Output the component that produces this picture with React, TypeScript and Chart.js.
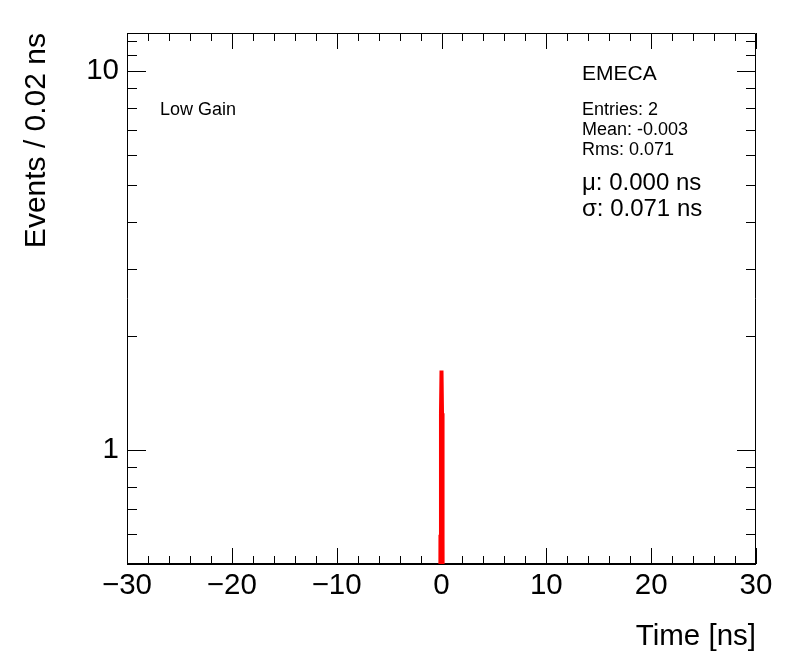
import React, { useEffect, useRef } from 'react';
import { Chart, registerables } from 'chart.js';

Chart.register(...registerables);

// ---- data ----
const xTickValues = [-30, -20, -10, 0, 10, 20, 30];
const xTickLabels = ['−30', '−20', '−10', '0', '10', '20', '30'];
const xMinorTicks = [-28, -26, -24, -22, -18, -16, -14, -12, -8, -6, -4, -2, 2, 4, 6, 8, 12, 14, 16, 18, 22, 24, 26, 28];
const yTickValues = [1, 10];
const yTickLabels = ['1', '10'];
const yMinorTicks = [0.6, 0.7, 0.8, 0.9, 2, 3, 4, 5, 6, 7, 8, 9, 11, 12];

// histogram bins (0.02 ns wide)
const histBinLow = [-0.1, 0.06];
const histBinHigh = [-0.08, 0.08];
const histCounts = [1, 1];
const histFloor = 0.01;

// gaussian fit curve
const fitX = [-0.3, -0.2, -0.15, -0.1, -0.05, 0, 0.05, 0.1, 0.15, 0.2, 0.3];
const fitY = [0.002, 0.03, 0.17, 0.59, 1.25, 1.62, 1.25, 0.59, 0.17, 0.03, 0.002];

const panelLabel = 'Low Gain';
const statsTitle = 'EMECA';
const statsLines = ['Entries: 2', 'Mean: -0.003', 'Rms: 0.071'];
const fitLines = ['μ: 0.000 ns', 'σ: 0.071 ns'];

const xTitle = 'Time [ns]';
const yTitle = 'Events / 0.02 ns';

const FONT = '"Liberation Sans", Arial, Helvetica, sans-serif';

export default function App() {
  const ref = useRef<HTMLCanvasElement>(null);

  useEffect(() => {
    const canvas = ref.current;
    if (!canvas) return;

    const histPoints: { x: number; y: number }[] = [];
    histBinLow.forEach((lo, i) => {
      const hi = histBinHigh[i];
      histPoints.push({ x: lo, y: histFloor });
      histPoints.push({ x: lo, y: histCounts[i] });
      histPoints.push({ x: hi, y: histCounts[i] });
      histPoints.push({ x: hi, y: histFloor });
    });
    const fitPoints = fitX.map((x, i) => ({ x, y: fitY[i] }));

    const framePlugin = {
      id: 'rootFrame',
      beforeDatasetsDraw(chart: any) {
        const { ctx, chartArea: a, scales } = chart;
        const sx = scales.x;
        const sy = scales.y;
        ctx.save();
        ctx.strokeStyle = '#000';
        ctx.lineWidth = 1;
        ctx.beginPath();
        ctx.moveTo(a.left + 0.5, a.bottom);
        ctx.lineTo(a.left + 0.5, a.top + 0.5);
        ctx.lineTo(a.right - 0.5, a.top + 0.5);
        ctx.lineTo(a.right - 0.5, a.bottom);
        const xTick = (v: number, len: number) => {
          const px = Math.round(sx.getPixelForValue(v)) + 0.5;
          ctx.moveTo(px, a.bottom);
          ctx.lineTo(px, a.bottom - len);
          ctx.moveTo(px, a.top);
          ctx.lineTo(px, a.top + len);
        };
        const yTick = (v: number, len: number) => {
          const py = Math.round(sy.getPixelForValue(v)) + 0.5;
          ctx.moveTo(a.left, py);
          ctx.lineTo(a.left + len, py);
          ctx.moveTo(a.right, py);
          ctx.lineTo(a.right - len, py);
        };
        xTickValues.forEach((v) => xTick(v, 16));
        xMinorTicks.forEach((v) => xTick(v, 8));
        yTickValues.forEach((v) => yTick(v, 19));
        yMinorTicks.forEach((v) => yTick(v, 10));
        ctx.stroke();
        ctx.lineWidth = 2;
        ctx.beginPath();
        ctx.moveTo(a.left, a.bottom);
        ctx.lineTo(a.right, a.bottom);
        ctx.stroke();
        ctx.restore();
      },
      afterDraw(chart: any) {
        const { ctx, chartArea: a } = chart;
        ctx.save();
        ctx.fillStyle = '#000';
        ctx.textAlign = 'left';
        ctx.textBaseline = 'alphabetic';
        ctx.font = `18px ${FONT}`;
        ctx.fillText(panelLabel, a.left + 33, a.top + 82);
        ctx.font = `21px ${FONT}`;
        ctx.fillText(statsTitle, a.left + 455, a.top + 47);
        ctx.font = `18px ${FONT}`;
        statsLines.forEach((s, i) => ctx.fillText(s, a.left + 455, a.top + 82 + i * 20));
        ctx.font = `24px ${FONT}`;
        fitLines.forEach((s, i) => ctx.fillText(s, a.left + 455, a.top + 157 + i * 26));
        ctx.restore();
      },
    };

    const chart = new Chart(canvas, {
      type: 'line',
      data: {
        datasets: [
          {
            data: histPoints,
            borderColor: '#000',
            borderWidth: 1,
            pointRadius: 0,
            fill: false,
            tension: 0,
            order: 2,
          },
          {
            data: fitPoints,
            borderColor: '#ff0000',
            borderWidth: 4,
            pointRadius: 0,
            fill: false,
            tension: 0,
            order: 1,
          },
        ],
      },
      options: {
        responsive: false,
        animation: false,
        devicePixelRatio: 1,
        layout: { padding: { left: 0, top: 33, right: 40, bottom: 0 } },
        plugins: { legend: { display: false }, tooltip: { enabled: false } },
        scales: {
          x: {
            type: 'linear',
            min: -30,
            max: 30,
            grid: { display: false },
            border: { display: false },
            afterBuildTicks: (s: any) => {
              s.ticks = xTickValues.map((v) => ({ value: v }));
            },
            afterFit: (s: any) => {
              s.height = 108;
            },
            ticks: {
              padding: -4,
              maxRotation: 0,
              autoSkip: false,
              color: '#000',
              font: { family: FONT, size: 29.5 },
              callback: (v: any) => {
                const i = xTickValues.indexOf(Number(v));
                return i >= 0 ? xTickLabels[i] : '';
              },
            },
            title: {
              display: true,
              text: xTitle,
              align: 'end',
              color: '#000',
              font: { family: FONT, size: 29.5 },
              padding: { top: 0, bottom: 17 },
            },
          },
          y: {
            type: 'logarithmic',
            min: 0.5,
            max: 12.6,
            grid: { display: false },
            border: { display: false },
            afterBuildTicks: (s: any) => {
              s.ticks = yTickValues.map((v) => ({ value: v }));
            },
            afterFit: (s: any) => {
              s.width = 127;
            },
            ticks: {
              padding: 0,
              autoSkip: false,
              color: '#000',
              font: { family: FONT, size: 29.5 },
              callback: (v: any) => {
                const i = yTickValues.indexOf(Number(v));
                return i >= 0 ? yTickLabels[i] : '';
              },
            },
            title: {
              display: true,
              text: yTitle,
              align: 'end',
              color: '#000',
              font: { family: FONT, size: 30 },
              padding: { top: 19, bottom: 0 },
            },
          },
        },
      } as any,
      plugins: [framePlugin],
    });

    return () => chart.destroy();
  }, []);

  return (
    <div style={{ position: 'absolute', left: 0, top: 0, width: 796, height: 672, background: '#fff' }}>
      <canvas ref={ref} width={796} height={672} style={{ display: 'block', width: 796, height: 672 }} />
    </div>
  );
}
